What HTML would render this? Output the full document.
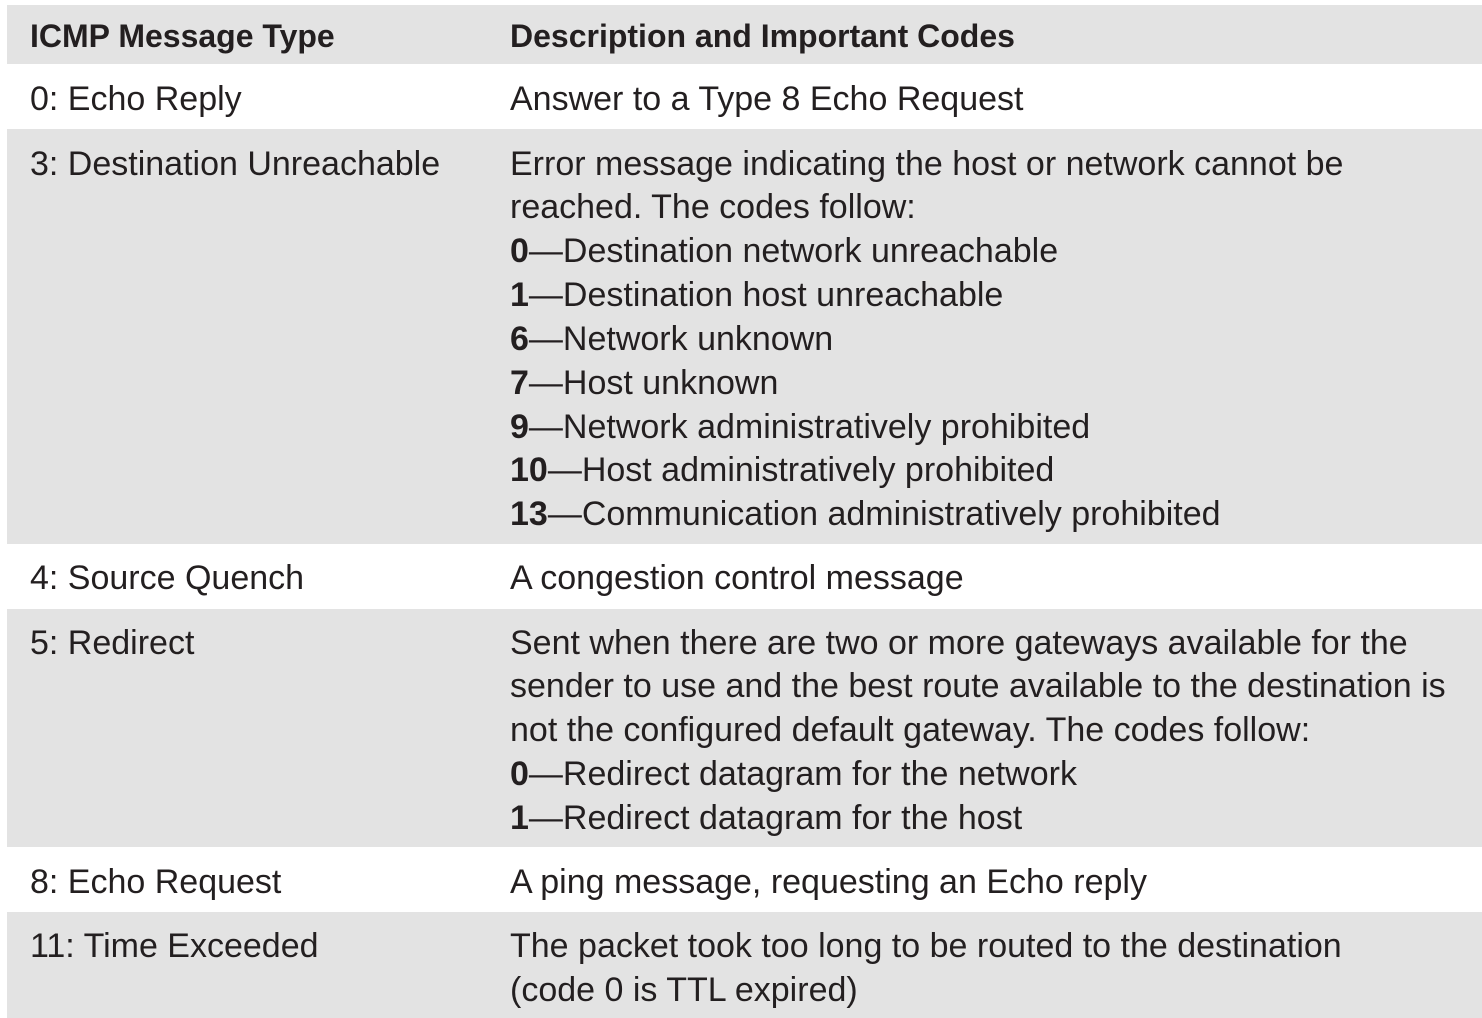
<!DOCTYPE html>
<html><head><meta charset="utf-8"><style>
body{margin:0;width:1482px;height:1018px;background:#fff;position:relative;overflow:hidden;font-family:"Liberation Sans",sans-serif;color:#231f20}
.bg{position:absolute;left:7px;right:0;background:#e3e3e3}
.t{position:absolute;font-size:34px;line-height:44px;white-space:nowrap;letter-spacing:0}
.h{font-weight:bold;font-size:32px}
</style></head><body>
<div class="bg" style="top:5px;height:59px"></div>
<div class="bg" style="top:129px;height:415px"></div>
<div class="bg" style="top:609px;height:238px"></div>
<div class="bg" style="top:912px;height:106px"></div>

<div class="t h" style="left:30px;top:14px">ICMP Message Type</div>
<div class="t h" style="left:510px;top:14px">Description and Important Codes</div>

<div class="t" style="left:30px;top:77px">0: Echo Reply</div>
<div class="t" style="left:510px;top:77px">Answer to a Type 8 Echo Request</div>

<div class="t" style="left:30px;top:142px">3: Destination Unreachable</div>
<div class="t" style="left:510px;top:142px">Error message indicating the host or network cannot be</div>
<div class="t" style="left:510px;top:185px">reached. The codes follow:</div>
<div class="t" style="left:510px;top:229px"><b>0</b>—Destination network unreachable</div>
<div class="t" style="left:510px;top:273px"><b>1</b>—Destination host unreachable</div>
<div class="t" style="left:510px;top:317px"><b>6</b>—Network unknown</div>
<div class="t" style="left:510px;top:361px"><b>7</b>—Host unknown</div>
<div class="t" style="left:510px;top:405px"><b>9</b>—Network administratively prohibited</div>
<div class="t" style="left:510px;top:448px"><b>10</b>—Host administratively prohibited</div>
<div class="t" style="left:510px;top:492px"><b>13</b>—Communication administratively prohibited</div>

<div class="t" style="left:30px;top:556px">4: Source Quench</div>
<div class="t" style="left:510px;top:556px">A congestion control message</div>

<div class="t" style="left:30px;top:621px">5: Redirect</div>
<div class="t" style="left:510px;top:621px">Sent when there are two or more gateways available for the</div>
<div class="t" style="left:510px;top:664px">sender to use and the best route available to the destination is</div>
<div class="t" style="left:510px;top:708px">not the configured default gateway. The codes follow:</div>
<div class="t" style="left:510px;top:752px"><b>0</b>—Redirect datagram for the network</div>
<div class="t" style="left:510px;top:796px"><b>1</b>—Redirect datagram for the host</div>

<div class="t" style="left:30px;top:860px">8: Echo Request</div>
<div class="t" style="left:510px;top:860px">A ping message, requesting an Echo reply</div>

<div class="t" style="left:30px;top:924px">11: Time Exceeded</div>
<div class="t" style="left:510px;top:924px">The packet took too long to be routed to the destination</div>
<div class="t" style="left:510px;top:968px">(code 0 is TTL expired)</div>
</body></html>
